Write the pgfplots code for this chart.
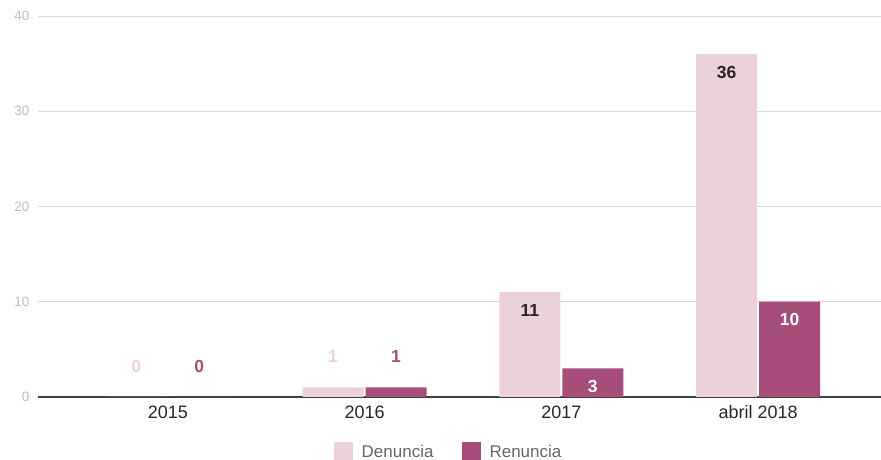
\documentclass[border=0pt]{standalone}
\usepackage{pgfplots}
\pgfplotsset{compat=1.18}
\usepackage{fontspec}
\setmainfont{Liberation Sans}
\definecolor{denun}{HTML}{EAD1DC}
\definecolor{renun}{HTML}{A64D79}
\definecolor{gridc}{HTML}{D9D9D9}
\definecolor{ytc}{HTML}{BDBDBD}
\definecolor{legc}{HTML}{666666}
\begin{document}
\begin{tikzpicture}
\useasboundingbox (0,0) rectangle (881pt,460pt);
\begin{axis}[
  at={(38pt,63pt)}, anchor=south west,
  scale only axis, width=843pt, height=381pt,
  ybar=2pt, bar width=61pt,
  xmin=-0.66, xmax=3.625, ymin=0, ymax=40,
  xtick={0,1,2,3},
  xticklabels={2015,2016,2017,abril 2018},
  ytick={0,10,20,30,40},
  ymajorgrids, grid style={gridc, line width=0.8pt},
  extra y ticks={0}, extra y tick labels={},
  extra y tick style={grid style={draw=black!75, line width=1.3pt}},
  axis line style={draw=none},
  tick style={draw=none},
  /pgf/number format/assume math mode=true,
  yticklabel style={text=ytc, font=\fontsize{13.5}{15}\selectfont, xshift=-5pt},
  xticklabel style={text=black!85, font=\fontsize{18}{20}\selectfont, yshift=-1pt},
  legend style={at={(0.487,-0.142)}, anchor=center, draw=none, fill=none,
    font=\fontsize{17}{19}\selectfont\color{legc}, legend columns=2,
    /tikz/every odd column/.append style={column sep=7pt},
    /tikz/every even column/.append style={column sep=26pt}},
  legend image code/.code={\fill[#1] (0pt,-9pt) rectangle (19pt,10pt);},
  visualization depends on={value \coordindex \as \myidx},
  every node near coord/.append style={anchor=center, font=\bfseries\fontsize{17.5}{19}\selectfont,
     yshift={ifthenelse(\myidx<2,31,-18)}},
]
\addplot[fill=denun, draw=none,
  nodes near coords={\ifnum\myidx<2\relax\color{denun}\else\color{black!85}\fi\pgfmathprintnumber{\pgfplotspointmeta}},
] coordinates {(0,0) (1,1) (2,11) (3,36)};
\addlegendentry{Denuncia}
\addplot[fill=renun, draw=none,
  nodes near coords={\ifnum\myidx<2\relax\color{renun}\else\color{white}\fi\pgfmathprintnumber{\pgfplotspointmeta}},
] coordinates {(0,0) (1,1) (2,3) (3,10)};
\addlegendentry{Renuncia}
\end{axis}
\end{tikzpicture}
\end{document}
